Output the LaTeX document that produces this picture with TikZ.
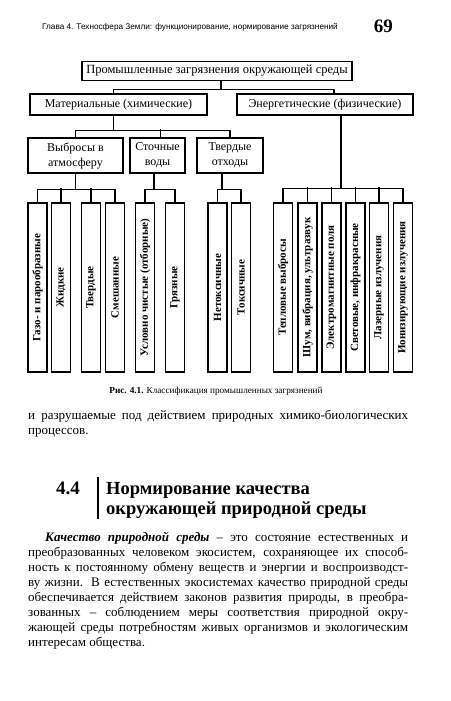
\documentclass[tikz,border=0pt]{standalone}
\usepackage{fontspec}
\setmainfont{Liberation Serif}
\newfontfamily\headfont{Liberation Sans}
\usetikzlibrary{positioning}
\newcommand\fullline[1]{\hbox to 380pt{#1}}

\begin{document}
\begin{tikzpicture}[x=1pt,y=1pt,
  box/.style={draw,line width=1.5pt,inner sep=0pt,align=center,font=\fontsize{12}{15}\selectfont},
  vbox/.style={draw,line width=1.5pt,inner sep=0pt,rotate=90,minimum width=169pt,minimum height=19pt,font=\bfseries\fontsize{11}{13}\selectfont},
  link/.style={line width=1.3pt}]
\useasboundingbox (0,0) rectangle (450,-701);
% running head
\node[anchor=base west,inner sep=0pt,font=\headfont\fontsize{8.2}{10}\selectfont] (hdr) at (42,-30) {Глава 4. Техносфера Земли: функционирование, нормирование загрязнений};
\node[anchor=base east,inner sep=0pt,font=\bfseries\fontsize{19}{20}\selectfont] (pg) at (393,-33) {69};
% boxes
\node[box,minimum width=270pt,minimum height=19pt,font=\fontsize{12.5}{15}\selectfont] (prom) at (217,-71) {Промышленные загрязнения окружающей среды};
\node[box,minimum width=177pt,minimum height=21pt] (mat) at (118.5,-104.5) {Материальные (химические)};
\node[box,minimum width=176pt,minimum height=21pt] (energ) at (325,-104.5) {Энергетические (физические)};
\node[box,minimum width=95pt,minimum height=35pt] (vybr) at (75.5,-155.5) {Выбросы в\\атмосферу};
\node[box,minimum width=55pt,minimum height=35pt] (stoch) at (157.5,-155.5) {Сточные\\воды};
\node[box,minimum width=66pt,minimum height=35pt] (tverd) at (230,-155.5) {Твердые\\отходы};
\foreach \nm/\x/\txt in {gaz/37.5/{Газо- и парообразные}, zhid/61/Жидкие, tv/91/Твердые,
    smesh/115/Смешанные, usl/145/{Условно чистые (отборные)}, gryaz/175/Грязные,
    netox/217.5/Нетоксичные, tox/241/Токсичные, tepl/283/{Тепловые выбросы},
    shum/307.5/{Шум, вибрация, ультразвук}, elmag/331.5/{Электромагнитные поля},
    svet/355.5/{Световые, инфракрасные}, laz/379/{Лазерные излучения},
    ion/403/{Ионизирующие излучения}}
  \node[vbox] (\nm) at (\x,-287.5) {\txt};
% connectors
\draw[link] ([xshift=4pt]prom.south) -- ++(0,-8) coordinate (j0);
\draw[link] ([xshift=-5pt]mat.north) |- (j0) -| ([xshift=9pt]energ.north);
\draw[link] ([xshift=-5pt]mat.south) -- ++(0,-15) coordinate (j1);
\draw[link] (vybr.north) |- (j1) -| (tverd.north);
\draw[link] ([xshift=3pt]stoch.north) -- ++(0,8);
\draw[link] (vybr.south) -- ++(0,-16) coordinate (j2);
\draw[link] (gaz.east) |- (j2) -| (smesh.east);
\foreach \nm in {zhid,tv} \draw[link] (\nm.east) -- ++(0,14);
\draw[link] ([xshift=-3.5pt]stoch.south) -- ++(0,-16) coordinate (j3);
\draw[link] (usl.east) |- (j3) -| (gryaz.east);
\draw[link] ([xshift=-8pt]tverd.south) -- ++(0,-16) coordinate (j4);
\draw[link] (netox.east) |- (j4) -| (tox.east);
\draw[link] ([xshift=16pt]energ.south) -- ++(0,-73) coordinate (j5);
\draw[link] (tepl.east) |- (j5) -| (ion.east);
\foreach \nm in {shum,elmag,svet,laz} \draw[link] (\nm.east) -- ++(0,15);
% caption and text
\node[anchor=base,inner sep=0pt,font=\fontsize{9.2}{11}\selectfont] (capt) at (216,-393) {\textbf{Рис. 4.1.} Классификация промышленных загрязнений};
\node[anchor=base west,inner sep=0pt,font=\fontsize{13}{15}\selectfont] (cont) at (28,-419)
  {\vtop{\baselineskip=15pt
  \fullline{и разрушаемые под действием природных химико-биологических}
  \hbox{процессов.}}};
\node[anchor=base east,inner sep=0pt,font=\bfseries\fontsize{19}{21}\selectfont] (secnum) at (80,-494) {4.4};
\draw[line width=2pt] (98,-477) -- (98,-519);
\node[anchor=base west,inner sep=0pt,font=\bfseries\fontsize{18.5}{21}\selectfont] (sectitle) at (106,-494)
  {\vtop{\baselineskip=20pt
  \hbox{Нормирование качества}
  \hbox{окружающей природной среды}}};
\node[anchor=base west,inner sep=0pt,font=\fontsize{13}{15}\selectfont] (body) at (28,-541)
  {\vtop{\baselineskip=15pt
  \fullline{\hskip17pt\textbf{\textit{Качество природной среды}} – это состояние естественных и}
  \fullline{преобразованных человеком экосистем, сохраняющее их способ-}
  \fullline{ность к постоянному обмену веществ и энергии и воспроизводст-}
  \fullline{ву жизни. В естественных экосистемах качество природной среды}
  \fullline{обеспечивается действием законов развития природы, в преобра-}
  \fullline{зованных – соблюдением меры соответствия природной окру-}
  \fullline{жающей среды потребностям живых организмов и экологическим}
  \hbox{интересам общества.}}};
\end{tikzpicture}
\end{document}
